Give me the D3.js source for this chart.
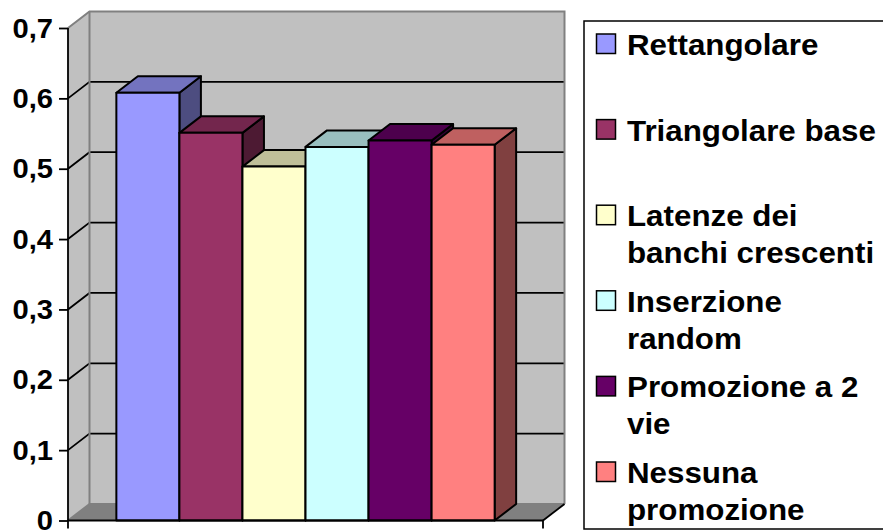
<!DOCTYPE html>
<html>
<head>
<meta charset="utf-8">
<script src="https://cdn.jsdelivr.net/npm/d3@7"></script>
<style>
  html, body { margin: 0; padding: 0; background: #fff; }
  svg { display: block; }
  svg text { font-family: "Liberation Sans", Arial, sans-serif; font-weight: 700; }
</style>
</head>
<body>
<svg id="chart" width="883" height="532"></svg>
<script>
// Series shown as 3D columns, one per placement policy
const series = ["Rettangolare", "Triangolare base", "Latenze dei banchi crescenti",
                "Inserzione random", "Promozione a 2 vie", "Nessuna promozione"];
const values = [0.608, 0.551, 0.503, 0.531, 0.540, 0.534];
const colors = ["#9999FF", "#993366", "#FFFFCC", "#CCFFFF", "#660066", "#FF8080"];
const yTicks = [0, 0.1, 0.2, 0.3, 0.4, 0.5, 0.6, 0.7];

const svg = d3.select("#chart");

// plot frame (front plane) and 3D depth offset
const left = 68, right = 543;
const dx = 21.5, dy = -16.5;
const y = d3.scaleLinear().domain([0, 0.7]).range([520.5, 28]);
const x = d3.scaleBand().domain(series).range([left, right]).paddingInner(0).paddingOuter(0.767);
const y0 = y(0), yTop = y(0.7);

const stretch = 1.08;
const fmt = v => v === 0 ? "0" : d3.format(".1f")(v).replace(".", ",");
const pts = a => a.map(p => p.join(",")).join(" ");

// walls and floor
const walls = svg.append("g");
walls.append("polygon") // side wall
  .attr("points", pts([[left, yTop], [left + dx, yTop + dy], [left + dx, y0 + dy], [left, y0]]))
  .attr("fill", "#C0C0C0");
walls.append("rect") // back wall
  .attr("x", left + dx).attr("y", yTop + dy)
  .attr("width", right - left).attr("height", y0 - yTop)
  .attr("fill", "#C0C0C0");
walls.append("polygon") // floor
  .attr("points", pts([[left, y0], [left + dx, y0 + dy], [right + dx, y0 + dy], [right, y0]]))
  .attr("fill", "#808080");

// gridlines on back wall and side wall
const grid = svg.append("g").attr("stroke", "#000").attr("stroke-width", 1.8).attr("fill", "none");
yTicks.filter(t => t > 0 && t < 0.7).forEach(t => {
  grid.append("path").attr("d", `M${left},${y(t)}L${left + dx},${y(t) + dy}H${right + dx}`);
});

// wall outlines
const edges = svg.append("g").attr("stroke", "#808080").attr("stroke-width", 2).attr("fill", "none");
edges.append("path").attr("d", `M${left},${yTop}L${left + dx},${yTop + dy}H${right + dx}V${y0 + dy}`);
edges.append("path").attr("d", `M${left + dx},${yTop + dy}V${y0 + dy}H${right + dx}`);
edges.append("path").attr("d", `M${left},${y0}L${left + dx},${y0 + dy}`);
svg.append("path").attr("d", `M${right},${y0}L${right + dx},${y0 + dy}`)
  .attr("stroke", "#000").attr("stroke-width", 1.8).attr("fill", "none");

// columns
const shade = (c, k) => { const r = d3.rgb(c); return d3.rgb(r.r * k, r.g * k, r.b * k).formatHex(); };
const bars = svg.append("g").attr("stroke", "#000").attr("stroke-width", 2).attr("stroke-linejoin", "round");
series.forEach((s, i) => {
  const bx = x(s), w = x.bandwidth(), yv = y(values[i]);
  const g = bars.append("g");
  g.append("polygon")
    .attr("points", pts([[bx + w, yv], [bx + w + dx, yv + dy], [bx + w + dx, y0 + dy], [bx + w, y0]]))
    .attr("fill", shade(colors[i], 0.5));
  g.append("polygon")
    .attr("points", pts([[bx, yv], [bx + w, yv], [bx + w + dx, yv + dy], [bx + dx, yv + dy]]))
    .attr("fill", shade(colors[i], 0.75));
  g.append("rect").attr("x", bx).attr("y", yv).attr("width", w).attr("height", y0 - yv)
    .attr("fill", colors[i]);
});

// value axis
const yAxis = svg.append("g").attr("transform", `translate(${left},0)`)
  .call(d3.axisLeft(y).tickValues(yTicks).tickFormat(fmt).tickSize(9).tickPadding(6))
  .attr("font-family", "Liberation Sans, Arial, sans-serif");
yAxis.select(".domain").remove();
yAxis.selectAll(".tick line").attr("stroke", "#000").attr("stroke-width", 1.8);
yAxis.selectAll(".tick text")
  .attr("fill", "#000").attr("font-size", 27)
  .attr("dy", "0.34em")
  .attr("x", -15 / stretch)
  .attr("transform", `scale(${stretch},1)`);

// front axis lines with end ticks
const ax = svg.append("g").attr("stroke", "#000").attr("stroke-width", 1.8).attr("fill", "none");
ax.append("path").attr("d", `M${left},${yTop}V${y0 + 8}`);
ax.append("path").attr("d", `M${left},${y0}H${right}V${y0 + 8}`);

// legend
const lg = svg.append("g");
lg.append("rect").attr("x", 584).attr("y", 21).attr("width", 400).attr("height", 508)
  .attr("fill", "#fff").attr("stroke", "#000").attr("stroke-width", 1.5);
const maxW = 262, fs = 29, lineH = 36.8, firstBase = 55, entryStep = 85.6;
series.forEach((s, i) => {
  const base = firstBase + i * entryStep;
  lg.append("rect").attr("x", 596.5).attr("y", base - 21).attr("width", 19).attr("height", 19.5)
    .attr("fill", colors[i]).attr("stroke", "#000").attr("stroke-width", 1.5);
  const t = lg.append("text").attr("font-size", fs).attr("fill", "#000")
    .attr("transform", `translate(627,${base}) scale(${stretch},1)`);
  // wrap words to the legend width
  const words = s.split(" ");
  let line = [], ln = 0;
  let tsp = t.append("tspan").attr("x", 0).attr("y", 0);
  words.forEach(wd => {
    line.push(wd);
    tsp.text(line.join(" "));
    if (tsp.node().getComputedTextLength() * stretch > maxW && line.length > 1) {
      line.pop();
      tsp.text(line.join(" "));
      line = [wd];
      ln++;
      tsp = t.append("tspan").attr("x", 0).attr("y", ln * lineH).text(wd);
    }
  });
});
</script>
</body>
</html>
